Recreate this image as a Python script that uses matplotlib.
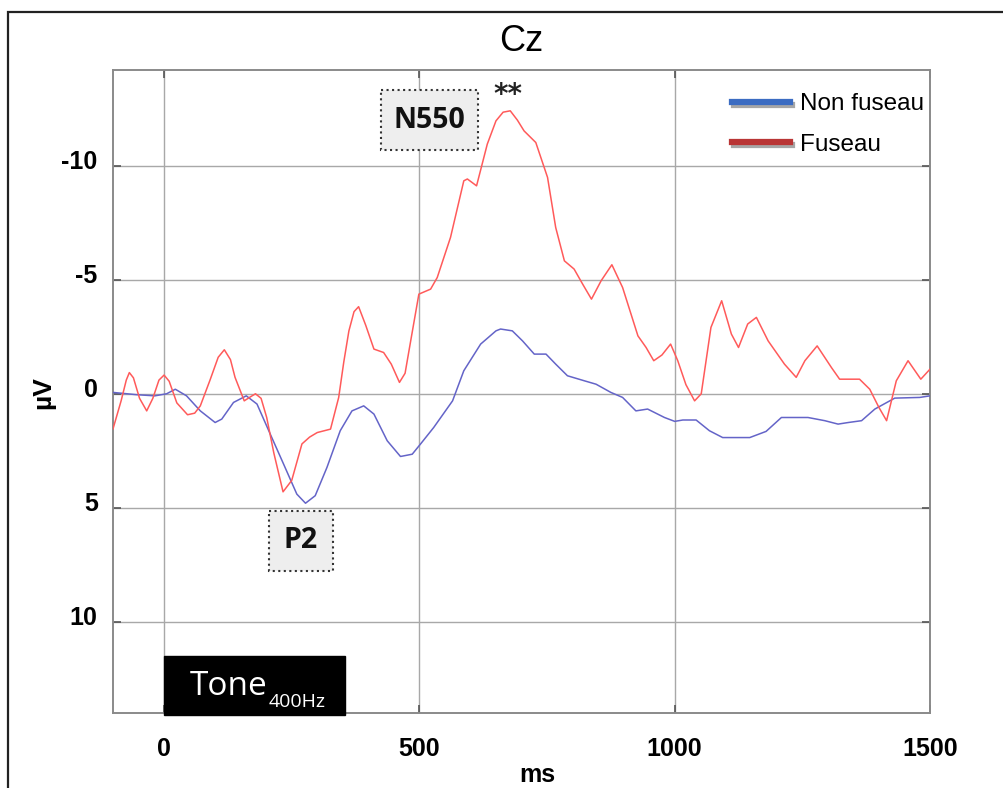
import matplotlib
matplotlib.use("Agg")
import matplotlib.pyplot as plt
from matplotlib.lines import Line2D
from matplotlib.patches import Rectangle
from matplotlib.transforms import ScaledTranslation
import matplotlib.patheffects as pe

plt.rcParams["axes.unicode_minus"] = False

# ---------------- data ----------------
fuseau_ms = [-100, -84, -74, -68, -60, -48, -34, -22, -10, 0, 10, 25, 46, 60, 71, 90, 106,
             118, 130, 139, 157, 168, 179, 190, 201, 215, 233, 250, 270, 285, 300, 326,
             342, 352, 362, 372, 381, 395, 411, 430, 445, 461, 472, 483, 499, 522, 535,
             561, 587, 594, 612, 633, 650, 664, 678, 692, 705, 728, 751, 767, 784, 803,
             820, 837, 856, 877, 898, 928, 944, 959, 975, 992, 1006, 1022, 1039, 1052,
             1071, 1092, 1111, 1125, 1143, 1160, 1183, 1215, 1238, 1255, 1279, 1307,
             1323, 1362, 1382, 1400, 1415, 1434, 1457, 1482, 1500]
fuseau_uv = [1.54, 0.3, -0.6, -0.93, -0.7, 0.2, 0.75, 0.2, -0.6, -0.82, -0.55, 0.4, 0.92,
             0.85, 0.53, -0.6, -1.6, -1.93, -1.5, -0.72, 0.31, 0.15, 0.0, 0.2, 1.04,
             2.6, 4.3, 3.8, 2.2, 1.9, 1.7, 1.55, 0.16, -1.4, -2.76, -3.6, -3.82, -3.0,
             -1.96, -1.81, -1.3, -0.5, -0.9, -2.32, -4.37, -4.59, -5.1, -6.86, -9.34,
             -9.42, -9.12, -10.95, -11.97, -12.35, -12.41, -12.0, -11.53, -11.02, -9.49,
             -7.29, -5.83, -5.47, -4.8, -4.15, -4.96, -5.66, -4.66, -2.54, -2.03, -1.45,
             -1.7, -2.18, -1.45, -0.4, 0.31, 0.0, -2.91, -4.08, -2.62, -2.03, -3.06,
             -3.35, -2.32, -1.3, -0.72, -1.45, -2.1, -1.15, -0.64, -0.64, -0.2, 0.6, 1.18,
             -0.57, -1.45, -0.64, -1.08]

nonfuseau_ms = [-100, -54, -18, 5, 22, 44, 71, 100, 113, 136, 161, 182, 208, 234, 260, 277,
                296, 319, 345, 368, 391, 411, 437, 463, 486, 502, 528, 565, 587, 620, 650,
                659, 682, 702, 725, 748, 767, 790, 823, 846, 875, 898, 924, 947, 980, 1000,
                1016, 1042, 1068, 1094, 1147, 1179, 1209, 1261, 1294, 1320, 1340, 1366,
                1392, 1431, 1480, 1500]
nonfuseau_uv = [-0.06, 0.04, 0.09, 0.0, -0.2, 0.09, 0.75, 1.26, 1.11, 0.38, 0.09, 0.45,
                1.77, 3.08, 4.4, 4.8, 4.47, 3.23, 1.62, 0.75, 0.53, 0.89, 2.06, 2.75, 2.65,
                2.21, 1.48, 0.31, -1.01, -2.18, -2.76, -2.84, -2.76, -2.32, -1.74, -1.74,
                -1.3, -0.79, -0.57, -0.42, -0.06, 0.16, 0.75, 0.67, 1.04, 1.21, 1.15, 1.15,
                1.62, 1.92, 1.92, 1.65, 1.04, 1.04, 1.18, 1.33, 1.26, 1.18, 0.67, 0.19,
                0.16, 0.09]

x_ticks = [0, 500, 1000, 1500]
y_ticks = [-10, -5, 0, 5, 10]
series_labels = ["Non fuseau", "Fuseau"]

# ---------------- figure ----------------
fig = plt.figure(figsize=(10.04, 7.88), dpi=100)
fig.patch.set_facecolor("white")
ax = fig.add_axes([113 / 1004, 1 - 713 / 788, 817 / 1004, 643 / 788])

# outer frame (top/left visible)
fig.add_artist(Rectangle((8 / 1004, -0.2), 1.2, 1.2 - 12 / 788,
                         transform=fig.transFigure, fill=False, ec="#222222", lw=1.6))

ax.plot(nonfuseau_ms, nonfuseau_uv, color="#6464c8", lw=1.1, zorder=3)
ax.plot(fuseau_ms, fuseau_uv, color="#ff5a5a", lw=1.1, zorder=4)

ax.set_xlim(-100, 1500)
ax.set_ylim(14.0, -14.2)
ax.set_xticks(x_ticks)
ax.set_yticks(y_ticks)
ax.grid(True, color="#a8a8a8", lw=1.0)
ax.set_axisbelow(True)
for s in ax.spines.values():
    s.set_color("#8a8a8a")
    s.set_linewidth(1.4)

ax.tick_params(axis="both", direction="in", length=6, width=1.2, color="#555555",
               top=True, right=True, labelsize=18)
ax.tick_params(axis="x", pad=17)
ax.tick_params(axis="y", pad=11)
for lab in ax.get_xticklabels() + ax.get_yticklabels():
    lab.set_fontfamily("Liberation Sans")
    lab.set_fontweight("bold")
for lab in ax.get_yticklabels():
    lab.set_transform(lab.get_transform() + ScaledTranslation(0, 0.06, fig.dpi_scale_trans))

ax.set_xlabel("ms", fontsize=18, fontweight="bold", family="Liberation Sans")
ax.xaxis.set_label_coords(0.519, -0.077)
ax.set_ylabel("µV", fontsize=19, fontweight="bold", family="Liberation Sans")
ax.yaxis.set_label_coords(-0.071, 0.499)

ax.set_title("Cz", fontsize=26, family="Liberation Sans", pad=14)

# legend
shadow = [pe.SimpleLineShadow(offset=(1.5, -2), alpha=0.35), pe.Normal()]
handles = [Line2D([], [], color="#3b6cc2", lw=4.5, path_effects=shadow),
           Line2D([], [], color="#b93535", lw=4.5, path_effects=shadow)]
leg = ax.legend(handles, series_labels, loc="upper right", bbox_to_anchor=(1.0, 0.973),
                frameon=False, handlelength=2.4, handletextpad=0.4,
                labelspacing=0.75, borderaxespad=0.0, borderpad=0.25,
                prop={"family": "Liberation Sans", "size": 17.5})

# annotation boxes
ax.add_patch(Rectangle((424, -13.33), 190, 2.63, fc="#eeeeee", ec="#333333", ls=":",
                       lw=1.5, zorder=5))
ax.text(519, -12.0, "N550", ha="center", va="center", fontsize=20.5, fontweight="bold",
        family="Open Sans", color="#111111", zorder=6)
ax.text(673, -13.1, "**", ha="center", va="center", fontsize=20, fontweight="bold",
        family="DejaVu Sans", color="#222222", zorder=6)

ax.add_patch(Rectangle((206, 5.13), 124, 2.63, fc="#eeeeee", ec="#333333", ls=":",
                       lw=1.5, zorder=5))
ax.text(268, 6.45, "P2", ha="center", va="center", fontsize=20.5, fontweight="bold",
        family="Open Sans", color="#111111", zorder=6)

ax.add_patch(Rectangle((0, 11.49), 355, 2.6, fc="black", ec="black", lw=1, zorder=5,
                       clip_on=False))
t = ax.text(51, 13.2, "Tone", ha="left", va="baseline", fontsize=24, family="Open Sans",
            color="white", zorder=6)
ax.annotate("400Hz", xy=(1.0, 0.0), xycoords=t, xytext=(0.5, -3), textcoords="offset points",
            ha="left", va="baseline", fontsize=14, family="Open Sans", color="white",
            zorder=6)

fig.savefig("out.png", dpi=100)
